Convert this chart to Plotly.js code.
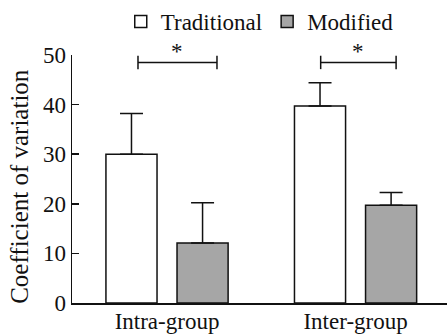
<!DOCTYPE html>
<html>
<head>
<meta charset="utf-8">
<script src="https://cdn.plot.ly/plotly-3.0.1.min.js"></script>
<style>html,body{margin:0;padding:0;background:#fff;}#chart{width:447px;height:336px;}</style>
</head>
<body>
<div id="chart"></div>
<script>
const categories = ['Intra-group', 'Inter-group'];
const seriesNames = ['Traditional', 'Modified'];
const traditional = [30.0, 39.7];
const traditionalErr = [8.2, 4.7];
const modified = [12.1, 19.7];
const modifiedErr = [8.1, 2.6];
const yTicks = [0, 10, 20, 30, 40, 50];
const sigMarks = ['*', '*'];
const yTitle = 'Coefficient of variation';

const FONT = "'Liberation Serif'";
const INK = '#111';

const barW = 0.271;
const traces = [
  {
    type: 'bar', name: seriesNames[0], x: categories, y: traditional,
    width: barW, offset: -0.324,
    marker: {color: '#ffffff', line: {color: INK, width: 1.5}},
    error_y: {type: 'data', array: traditionalErr, arrayminus: [0, 0], symmetric: false,
      color: INK, thickness: 1.5, width: 11.5}
  },
  {
    type: 'bar', name: seriesNames[1], x: categories, y: modified,
    width: barW, offset: 0.053,
    marker: {color: '#a6a6a6', line: {color: INK, width: 1.5}},
    error_y: {type: 'data', array: modifiedErr, arrayminus: [0, 0], symmetric: false,
      color: INK, thickness: 1.5, width: 11.5}
  }
];

const bracketSpans = [[-0.154, 0.265], [-0.185, 0.215]];
const bracketY = 48.5, bracketTick = 1.35;
const shapes = [], annotations = [];
bracketSpans.forEach((s, i) => {
  const x0 = i + s[0], x1 = i + s[1];
  shapes.push({type: 'line', xref: 'x', yref: 'y', x0: x0, x1: x1, y0: bracketY, y1: bracketY, line: {color: INK, width: 1.5}});
  shapes.push({type: 'line', xref: 'x', yref: 'y', x0: x0, x1: x0, y0: bracketY - bracketTick, y1: bracketY + bracketTick, line: {color: INK, width: 1.5}});
  shapes.push({type: 'line', xref: 'x', yref: 'y', x0: x1, x1: x1, y0: bracketY - bracketTick, y1: bracketY + bracketTick, line: {color: INK, width: 1.5}});
  annotations.push({xref: 'x', yref: 'y', x: (x0 + x1) / 2, y: bracketY, text: sigMarks[i],
    showarrow: false, yanchor: 'bottom', yshift: -4, font: {family: FONT, size: 23, color: INK}});
});
// y-axis title placed as a rotated annotation to match reference position
annotations.push({xref: 'paper', yref: 'paper', x: -0.139, y: 0.472, text: yTitle, textangle: -90,
  showarrow: false, xanchor: 'center', yanchor: 'middle', font: {family: FONT, size: 25, color: INK}});

const layout = {
  width: 447, height: 336,
  margin: {l: 72, r: 0, t: 53, b: 33, pad: 0},
  paper_bgcolor: '#ffffff', plot_bgcolor: '#ffffff',
  font: {family: FONT, size: 23, color: INK},
  barmode: 'overlay',
  showlegend: true,
  legend: {orientation: 'h', x: 0.13, xanchor: 'left', y: 1.222, yanchor: 'top',
    font: {family: FONT, size: 23, color: INK}, itemgap: 5, bgcolor: 'rgba(0,0,0,0)', traceorder: 'normal'},
  xaxis: {
    type: 'category', range: [-0.504, 1.485], showline: true, linecolor: INK, linewidth: 1.5,
    ticks: '', showgrid: false, zeroline: false, fixedrange: true, ticklabelstandoff: -3,
    tickfont: {family: FONT, size: 23, color: INK}
  },
  yaxis: {
    range: [0, 50], tickvals: yTicks, ticktext: yTicks.map(String),
    showline: true, linecolor: INK, linewidth: 1.5,
    ticks: 'inside', ticklen: 7, tickwidth: 1.5, tickcolor: INK,
    showgrid: false, zeroline: false, fixedrange: true,
    tickfont: {family: FONT, size: 23, color: INK}
  },
  shapes: shapes,
  annotations: annotations
};

Plotly.newPlot('chart', traces, layout, {displayModeBar: false, staticPlot: true});
</script>
</body>
</html>
